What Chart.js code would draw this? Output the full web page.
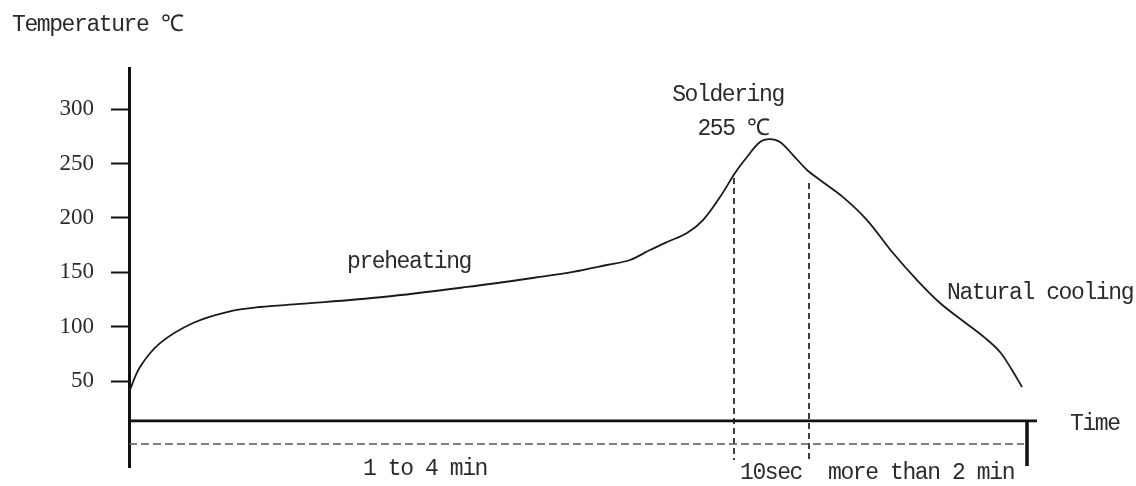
<!DOCTYPE html>
<html>
<head>
<meta charset="utf-8">
<script src="https://cdn.jsdelivr.net/npm/chart.js@4.4.0/dist/chart.umd.min.js"></script>
<style>
html, body { margin: 0; padding: 0; background: #fff; }
</style>
</head>
<body>
<canvas id="profileChart" width="1136" height="486"></canvas>
<script>
// Curva de soldagem (tempo em unidades arbitrarias ao longo do eixo, temperatura em °C)
const timeValues = [0, 11, 31, 64, 98, 131, 171, 254, 338, 411, 444, 478, 501, 521, 538, 558, 574, 591,
    606, 618, 631, 641, 651, 664, 678, 691, 714, 738, 764, 788, 811, 834, 856, 871, 883, 893];
const tempValues = [40, 63, 85, 103.5, 113.6, 118.2, 121, 127.4, 136.6, 145.8, 150.4, 156.8, 161.4, 170.6,
    177.9, 186.2, 198.1, 219.2, 241.3, 256, 269.8, 272.5, 269.8, 257.8, 244.1, 234.9, 219.2, 198.1,
    167.8, 143, 121.9, 105.4, 89.8, 76.9, 60.3, 44.7];

const yTickValues = [50, 100, 150, 200, 250, 300];
const yTickLabels = ['50', '100', '150', '200', '250', '300'];

// eixo do tempo e marcacoes das fases
const timeAxisLevel = 13.5;
const timeAxisEnd = 908;
const timeScaleEnd = 898;
const timeScaleBottom = -27.9;
const durationLevel = -7.7;
const durationEnd = 895;
const solderBounds = [605, 680];
const solderTops = [236.7, 232.2];
const markBottom = -22.3;

const noteTexts = ['Temperature ℃', 'Soldering', '255 ℃', 'preheating', 'Natural cooling',
    'Time', '1 to 4 min', '10sec', 'more than 2 min'];

const curve = timeValues.map((t, i) => ({ x: t, y: tempValues[i] }));

function seg(x1, y1, x2, y2) {
    return [{ x: x1, y: y1 }, { x: x2, y: y2 }];
}

const notesPlugin = {
    id: 'notes',
    afterDraw(chart) {
        const ctx = chart.ctx;
        // posicoes dos textos (px)
        const spots = [
            [12, 31, 'left'], [728, 101, 'center'], [733, 135, 'center'], [347, 268, 'left'],
            [947, 299, 'left'], [1070, 430, 'left'], [363, 475, 'left'], [740, 479, 'left'], [828, 479, 'left']
        ];
        ctx.save();
        ctx.fillStyle = '#2b2b2b';
        ctx.font = '23px "Liberation Mono"';
        ctx.letterSpacing = '-1.4px';
        ctx.textBaseline = 'alphabetic';
        noteTexts.forEach((txt, i) => {
            ctx.textAlign = spots[i][2];
            ctx.fillText(txt, spots[i][0], spots[i][1]);
        });
        ctx.restore();
    }
};

const ctx = document.getElementById('profileChart').getContext('2d');
new Chart(ctx, {
    type: 'line',
    data: {
        datasets: [
            { data: curve, borderColor: '#1a1a1a', borderWidth: 1.8, tension: 0.35 },
            { data: seg(0, timeAxisLevel, timeAxisEnd, timeAxisLevel), borderColor: '#111', borderWidth: 2.8 },
            { data: seg(timeScaleEnd, timeAxisLevel, timeScaleEnd, timeScaleBottom), borderColor: '#111', borderWidth: 3.5 },
            { data: seg(0, durationLevel, durationEnd, durationLevel), borderColor: '#555', borderWidth: 1.6, borderDash: [8, 4] },
            { data: seg(solderBounds[0], solderTops[0], solderBounds[0], markBottom), borderColor: '#111', borderWidth: 1.6, borderDash: [6, 4] },
            { data: seg(solderBounds[1], solderTops[1], solderBounds[1], markBottom), borderColor: '#111', borderWidth: 1.6, borderDash: [6, 4] }
        ]
    },
    options: {
        responsive: false,
        animation: false,
        devicePixelRatio: 1,
        layout: { padding: { left: 0, right: 97, top: 68, bottom: 19 } },
        elements: { point: { radius: 0 } },
        plugins: { legend: { display: false }, tooltip: { enabled: false } },
        scales: {
            x: { type: 'linear', min: 0, max: 910, display: false },
            y: {
                type: 'linear',
                min: -28.8,
                max: 337.8,
                afterFit: (scale) => {
                    scale.width = 129;
                    scale.paddingTop = 0;
                    scale.paddingBottom = 0;
                },
                afterBuildTicks: (scale) => { scale.ticks = yTickValues.map(v => ({ value: v })); },
                border: { display: true, color: '#111', width: 3 },
                grid: { drawOnChartArea: false, drawTicks: true, tickLength: 18, tickColor: '#111', tickWidth: 2 },
                ticks: {
                    padding: 17,
                    color: '#2b2b2b',
                    font: { family: 'Liberation Serif', size: 23 },
                    callback: (v, i) => yTickLabels[i]
                }
            }
        }
    },
    plugins: [notesPlugin]
});
</script>
</body>
</html>
